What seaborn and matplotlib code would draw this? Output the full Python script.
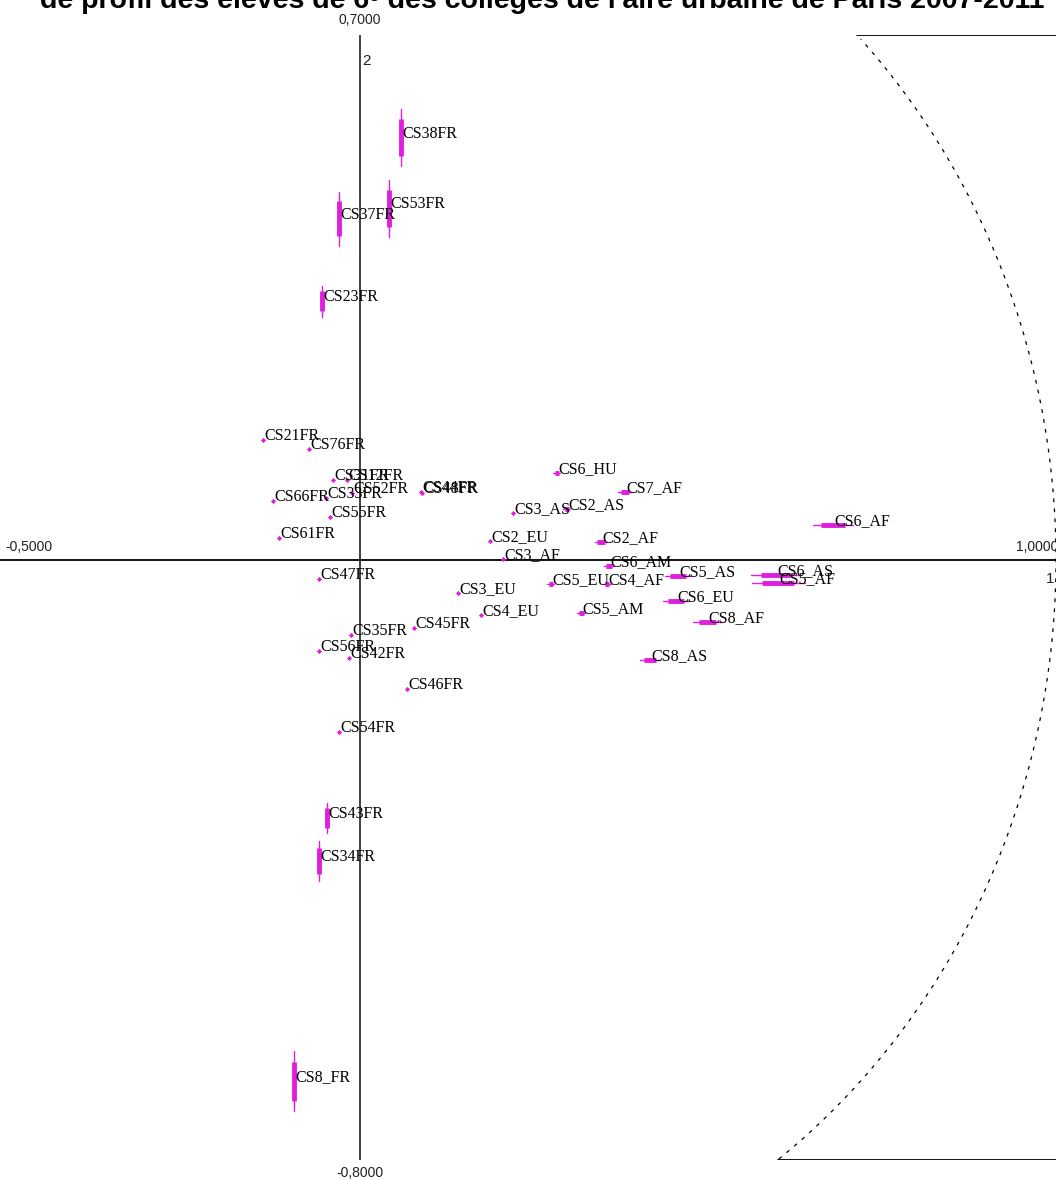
import numpy as np
import pandas as pd
import matplotlib
matplotlib.use("Agg")
import matplotlib.pyplot as plt
import seaborn as sns

# modalites projetees sur le plan factoriel 1-2
labels = ["CS38FR", "CS53FR", "CS37FR", "CS23FR", "CS21FR", "CS76FR",
          "CS31FR", "CS12FR", "CS52FR", "CS33FR", "CS66FR", "CS55FR",
          "CS61FR", "CS44FR", "CS48FR", "CS6_HU", "CS7_AF", "CS3_AS",
          "CS2_AS", "CS2_EU", "CS2_AF", "CS6_AF", "CS3_AF", "CS6_AM",
          "CS5_EU", "CS4_AF", "CS5_AS", "CS6_AS", "CS5_AF", "CS3_EU",
          "CS4_EU", "CS5_AM", "CS6_EU", "CS8_AF", "CS8_AS", "CS47FR",
          "CS45FR", "CS35FR", "CS56FR", "CS42FR", "CS46FR", "CS54FR",
          "CS43FR", "CS34FR", "CS8_FR"]
axe1 = [0.059, 0.042, -0.030, -0.055, -0.139, -0.073,
        -0.039, -0.019, -0.011, -0.049, -0.125, -0.043,
        -0.116, 0.088, 0.089, 0.283, 0.381, 0.220,
        0.297, 0.187, 0.346, 0.680, 0.205, 0.358,
        0.274, 0.355, 0.457, 0.598, 0.601, 0.141,
        0.174, 0.318, 0.454, 0.499, 0.417, -0.059,
        0.078, -0.013, -0.059, -0.016, 0.068, -0.030,
        -0.047, -0.059, -0.095]
axe2 = [0.563, 0.469, 0.455, 0.345, 0.160, 0.148,
        0.107, 0.107, 0.089, 0.083, 0.079, 0.057,
        0.029, 0.091, 0.089, 0.116, 0.091, 0.063,
        0.068, 0.025, 0.024, 0.047, 0.001, -0.008,
        -0.032, -0.032, -0.021, -0.020, -0.031, -0.044,
        -0.073, -0.071, -0.055, -0.083, -0.133, -0.025,
        -0.091, -0.100, -0.121, -0.131, -0.172, -0.229,
        -0.344, -0.401, -0.695]
# dispersion (demi-longueur des traits) sur chaque axe
disp1 = [0, 0, 0, 0, 0, 0,
         0, 0, 0, 0, 0, 0,
         0, 0, 0, 0.005, 0.010, 0,
         0.005, 0, 0.009, 0.029, 0, 0.007,
         0.005, 0.005, 0.019, 0.036, 0.038, 0,
         0, 0.006, 0.019, 0.021, 0.014, 0,
         0, 0, 0, 0, 0, 0,
         0, 0, 0]
disp2 = [0.038, 0.038, 0.036, 0.021, 0, 0,
         0, 0, 0, 0, 0, 0,
         0, 0, 0, 0, 0, 0,
         0, 0, 0, 0, 0, 0,
         0, 0, 0, 0, 0, 0,
         0, 0, 0, 0, 0, 0,
         0, 0, 0, 0, 0, 0,
         0.020, 0.027, 0.040]

titre = "de profil des élèves de 6ᵉ des collèges de l'aire urbaine de Paris 2007-2011"

df = pd.DataFrame({"label": labels, "f1": axe1, "f2": axe2,
                   "d1": disp1, "d2": disp2})

sns.set_theme(style="white")
plt.rcParams["font.family"] = ["Liberation Sans", "DejaVu Sans"]

W, H = 1056, 1180
fig = plt.figure(figsize=(W / 100, H / 100), dpi=100)
ax = fig.add_axes([0, 20 / H, 1, 1125 / H])
ax.set_xlim(-0.5172, 1.0)
ax.set_ylim(-0.8, 0.7)
ax.axis("off")

mag = "#e01ee0"

# axes factoriels
ax.plot([-0.5172, 1.0], [0, 0], color="black", lw=1.3, zorder=1)
ax.plot([0, 0], [-0.8, 0.7], color="#333333", lw=1.3, zorder=1)

# cercle des correlations (coupe par la fenetre)
t = np.linspace(-np.pi / 2, np.pi / 2, 400)
cx, cy = np.cos(t), np.sin(t)
keep = (cy <= 0.7) & (cy >= -0.8)
ax.plot(cx[keep], cy[keep], color="black", lw=0.9, ls=(0, (3, 5)), zorder=1)
ax.plot([np.sqrt(1 - 0.7 ** 2), 1.0], [0.7, 0.7], color="black", lw=1.3)
ax.plot([np.sqrt(1 - 0.8 ** 2), 1.0], [-0.8, -0.8], color="black", lw=1.3)

# traits de dispersion
for _, r in df.iterrows():
    if r.d1 > 0:
        ax.plot([r.f1 - r.d1, r.f1 + r.d1], [r.f2, r.f2], color=mag, lw=1, zorder=2)
        ax.plot([r.f1 - 0.6 * r.d1, r.f1 + 0.6 * r.d1], [r.f2, r.f2],
                color=mag, lw=3.5, zorder=2, solid_capstyle="butt")
    if r.d2 > 0:
        ax.plot([r.f1, r.f1], [r.f2 - r.d2, r.f2 + r.d2], color=mag, lw=1, zorder=2)
        ax.plot([r.f1, r.f1], [r.f2 - 0.65 * r.d2, r.f2 + 0.65 * r.d2],
                color=mag, lw=3.5, zorder=2, solid_capstyle="butt")

sns.scatterplot(data=df, x="f1", y="f2", ax=ax, color=mag, marker="D",
                s=7, linewidth=0, zorder=3, legend=False)

for _, r in df.iterrows():
    ax.annotate(r.label, (r.f1, r.f2), xytext=(1, 0), textcoords="offset points",
                ha="left", va="baseline", fontsize=11.5,
                family="Liberation Serif", color="black", zorder=4)

# bornes des axes
lab_kw = dict(fontsize=10, color="#222222", clip_on=False)
ax.text(-0.51, 0.008, "-0,5000", ha="left", va="bottom", **lab_kw)
ax.text(1.004, 0.008, "1,0000", ha="right", va="bottom", **lab_kw)
ax.text(0.997, -0.016, "1", ha="right", va="top", fontsize=11, color="#222222")
ax.text(0.0, 0.7105, "0,7000", ha="center", va="bottom", **lab_kw)
ax.text(0.0, -0.808, "-0,8000", ha="center", va="top", **lab_kw)
ax.text(0.003, 0.665, "2", ha="left", va="center", fontsize=11, color="#222222")

fig.text(0.513, 1 - 8.5 / H, titre, ha="center", va="baseline",
         fontsize=20.5, fontweight="bold", color="black")

fig.savefig("out.png", dpi=100, facecolor="white")
